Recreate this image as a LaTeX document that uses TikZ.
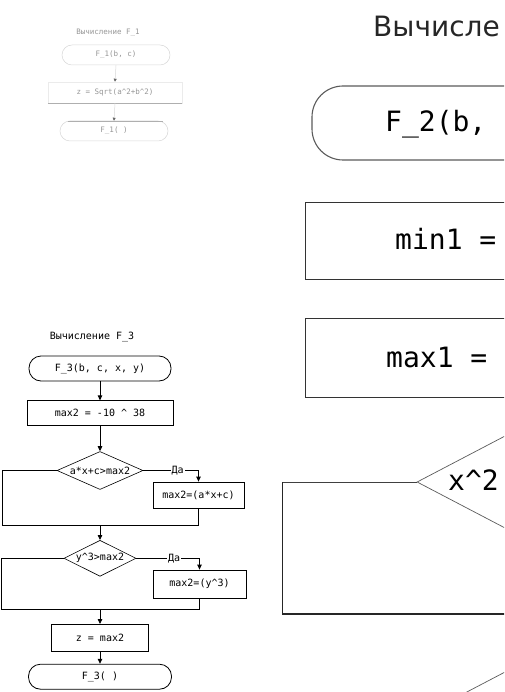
\documentclass[tikz,border=0pt]{standalone}
\usepackage{fontspec}
\setmonofont{DejaVu Sans Mono}
\newfontfamily\titlefont{DejaVu Sans}
\usepackage{tikz}
\usetikzlibrary{shapes.geometric, arrows.meta, positioning, calc}
\definecolor{cFaint}{RGB}{215,215,215}
\definecolor{cFaintTxt}{RGB}{150,150,150}
\definecolor{cLine}{RGB}{90,90,90}
\tikzset{
	% small flowchart (F_3)
	term/.style ={rectangle, rounded corners=12pt, draw=black, line width=0.8pt, minimum height=25pt, inner sep=1pt, align=center},
	blk/.style  ={rectangle, draw=black, line width=0.8pt, inner sep=1pt, align=center},
	cond/.style ={diamond, draw=black, line width=0.6pt, inner sep=0pt, aspect=2.2},
	sig/.style  ={-{Triangle[length=5pt, width=4.5pt]}, line width=0.8pt},
	lnk/.style  ={line width=0.8pt},
	yes/.style  ={fill=white, inner sep=1pt},
	% faint flowchart (F_1)
	fterm/.style={rectangle, rounded corners=10pt, draw=cFaint, line width=0.5pt, minimum width=108pt, minimum height=20pt, inner sep=0pt, text=cFaintTxt},
	fblk/.style ={rectangle, draw=cFaint!50, line width=0.5pt, inner sep=0pt, text=cFaintTxt},
	fsig/.style ={-{Triangle[length=3pt, width=3pt, color=black!60]}, draw=cFaint, line width=0.5pt},
	% large flowchart (F_2)
	bterm/.style={rectangle, rounded corners=31pt, draw=cLine, line width=1.1pt, inner sep=0pt},
	bblk/.style ={rectangle, draw=black!80, line width=0.9pt, inner sep=0pt},
	bcond/.style={diamond, draw=cLine, line width=0.7pt, inner sep=0pt},
	btxt/.style ={font=\fontsize{28}{32}\selectfont\ttfamily, inner sep=0pt, anchor=base west},
	blnk/.style ={line width=1.4pt, draw=black!85},
}
\begin{document}
\begin{tikzpicture}[x=1pt, y=-1pt]
	\useasboundingbox (0,0) rectangle (504,692);
	\clip (0,0) rectangle (504,692);

	% --- F_1 (faint, top left)
	\begin{scope}[every node/.style={font=\fontsize{7.5}{9}\selectfont\ttfamily}]
		\node[text=cFaintTxt] (h1) at (108,33) {Вычисление F\_1};
		\node[fterm] (t1a) at (116,55) {F\_1(b, c)};
		\node[fblk, minimum width=134pt, minimum height=21pt] (b1) at (115,92.5) {z = Sqrt(a\textasciicircum 2+b\textasciicircum 2)};
		\node[fterm] (t1b) at (114,131) {F\_1( )};
		\draw[cFaint!200] (b1.south west) -- (b1.south east);
		\draw[cFaint!200] ([xshift=8pt]t1b.north west) -- ([xshift=-5pt]t1b.north east);
		\draw[fsig] (t1a.south) -- (b1.north);
		\draw[fsig] (b1.south) -- (t1b.north);
	\end{scope}

	% --- F_3 (bottom left)
	\begin{scope}[every node/.style={font=\fontsize{10}{12}\selectfont\ttfamily}]
		\node (h3) at (92,337) {Вычисление F\_3};
		\node[term, minimum width=142pt] (t3a) at (100,368.5) {F\_3(b, c, x, y)};
		\node[blk, minimum width=146pt, minimum height=25pt, below=19pt of t3a] (b3a) {max2 = -10 \textasciicircum{} 38};
		\node[cond, minimum width=86pt, minimum height=38pt, below=25pt of b3a] (d3a) {a*x+c>max2};
		\node[blk, minimum width=91pt, minimum height=26pt] (b3b) at (198.5,495) {max2=(a*x+c)};
		\coordinate (m1) at (100,525);
		\node[cond, minimum width=72pt, minimum height=36pt, below=15pt of m1] (d3b) {y\textasciicircum 3>max2};
		\node[blk, minimum width=93pt, minimum height=28pt] (b3c) at (199.5,584) {max2=(y\textasciicircum 3)};
		\coordinate (m2) at (100,609);
		\node[blk, minimum width=97pt, minimum height=27pt, below=15pt of m2] (b3d) {z = max2};
		\node[term, minimum width=143pt, below=12pt of b3d] (t3b) {F\_3( )};

		\draw[sig] (t3a) -- (b3a);
		\draw[sig] (b3a) -- (d3a);
		\draw[sig] (d3a.east) -| node[yes, pos=0.31] {Да} (b3b.north);
		\draw[lnk] (d3a.west) -- ++(-54,0) |- (m1);
		\draw[lnk] (b3b.south) |- (m1);
		\draw[sig] (m1) -- (d3b.north);
		\draw[sig] (d3b.east) -| node[yes, pos=0.3] {Да} (b3c.north);
		\draw[lnk] (d3b.west) -- ++(-62,0) |- (m2);
		\draw[lnk] (b3c.south) |- (m2);
		\draw[sig] (m2) -- (b3d.north);
		\draw[sig] (b3d) -- (t3b);
	\end{scope}

	% --- F_2 (large, right, cut by the page edge)
	\node[font=\fontsize{28}{32}\selectfont\titlefont, inner sep=0pt, anchor=base west, text=black!85] (h2) at (373,37) {Вычисле};
	\node[bterm, minimum width=420pt, minimum height=74pt] (t2a) at (522,123) {};
	\node[btxt] at (385,132) {F\_2(b,};
	\node[bblk, minimum width=434pt, minimum height=77pt] (b2a) at (522,240.5) {};
	\node[btxt] at (395,250) {min1 =};
	\node[bblk, minimum width=434pt, minimum height=79pt] (b2b) at (522,357.5) {};
	\node[btxt] at (386,367) {max1 =};
	\node[bcond, minimum width=210pt, minimum height=110pt] (d2a) at (522,482) {};
	\node[btxt] at (448,490) {x\textasciicircum 2};
	\coordinate (m3) at (522,614);
	\node[bcond, minimum width=210pt, minimum height=110pt] (d2b) at (522,718) {};
	\draw[line width=0.8pt, draw=black!75] (d2a.west) -- ++(-134,0) coordinate (c2);
	\draw[blnk] (c2) |- (m3);
\end{tikzpicture}
\end{document}
